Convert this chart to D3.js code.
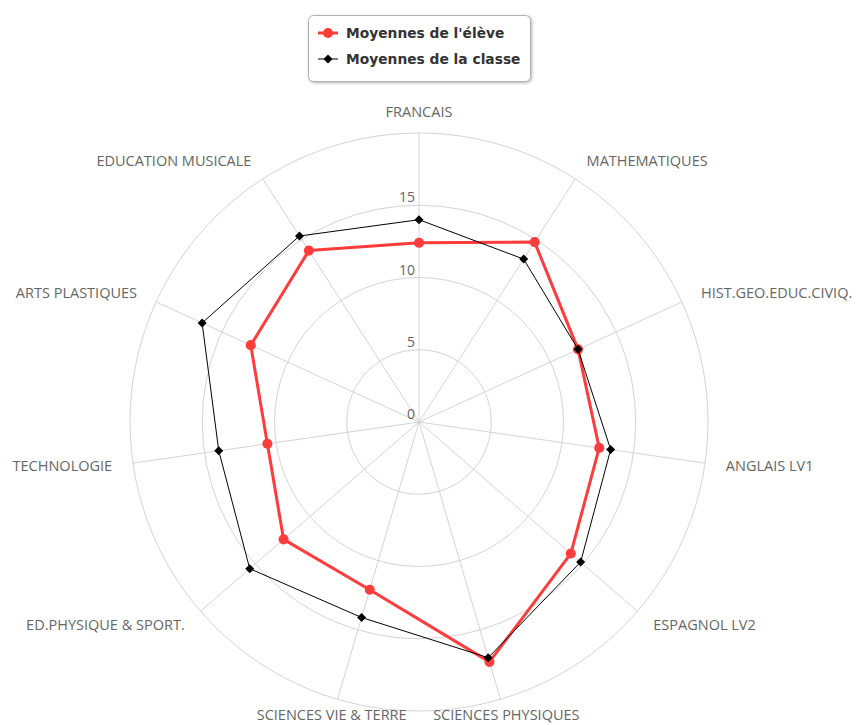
<!DOCTYPE html>
<html>
<head>
<meta charset="utf-8">
<script src="https://cdn.jsdelivr.net/npm/d3@7/dist/d3.min.js"></script>
<style>
  body { margin: 0; background: #fff; }
  svg { display: block; }
</style>
</head>
<body>
<div id="chart"></div>
<script>
// subjects, clockwise from the top
var subjects = ["FRANCAIS", "MATHEMATIQUES", "HIST.GEO.EDUC.CIVIQ.", "ANGLAIS LV1",
  "ESPAGNOL LV2", "SCIENCES PHYSIQUES", "SCIENCES VIE & TERRE",
  "ED.PHYSIQUE & SPORT.", "TECHNOLOGIE", "ARTS PLASTIQUES", "EDUCATION MUSICALE"];

var eleve = [12.4, 14.8, 12.1, 12.6, 13.9, 17.3, 12.1, 12.4, 10.6, 12.8, 14.1];
var classe = [14.0, 13.4, 12.1, 13.4, 14.8, 17.0, 14.1, 15.5, 14.0, 16.5, 15.3];

var ringValues = [5, 10, 15, 20];
var tickLabels = [0, 5, 10, 15];
var seriesNames = ["Moyennes de l'élève", "Moyennes de la classe"];

const width = 856;
const height = 725;
const cx = 419, cy = 422;

var svg = d3.select("#chart").append("svg")
  .attr("width", width)
  .attr("height", height);

var r = d3.scaleLinear().domain([0, 20]).range([0, 289]);
var angle = d3.scaleLinear().domain([0, subjects.length]).range([0, 2 * Math.PI]);

var pt = function (i, v) {
  var a = angle(i);
  return [cx + r(v) * Math.sin(a), cy - r(v) * Math.cos(a)];
};

var g = svg.append("g");

// rings
g.selectAll("circle.ring")
  .data(ringValues)
  .enter()
  .append("circle")
  .attr("cx", cx)
  .attr("cy", cy)
  .attr("r", function (d) { return r(d); })
  .attr("fill", "none")
  .attr("stroke", "#d4d4d4")
  .attr("stroke-width", 1);

// spokes
g.selectAll("line.spoke")
  .data(subjects)
  .enter()
  .append("line")
  .attr("x1", cx)
  .attr("y1", cy)
  .attr("x2", function (d, i) { return pt(i, 20)[0]; })
  .attr("y2", function (d, i) { return pt(i, 20)[1]; })
  .attr("stroke", "#d4d4d4")
  .attr("stroke-width", 1);

// subject labels (bottom ones nudged up a bit so they stay inside the frame)
g.selectAll("text.subject")
  .data(subjects)
  .enter()
  .append("text")
  .attr("x", function (d, i) { return cx + 310 * Math.sin(angle(i)); })
  .attr("y", function (d, i) {
    var y = cy - 310 * Math.cos(angle(i)) + 5;
    return Math.min(y, height - 5);
  })
  .attr("text-anchor", function (d, i) {
    var s = Math.sin(angle(i));
    if (s > 0.3) return "start";
    if (s < -0.3) return "end";
    return "middle";
  })
  .attr("font-family", "'Open Sans', sans-serif")
  .attr("font-size", "14.5px")
  .attr("fill", "#666")
  .text(function (d) { return d; });

// tick labels on the vertical axis
g.selectAll("text.tick")
  .data(tickLabels)
  .enter()
  .append("text")
  .attr("x", cx - 4)
  .attr("y", function (d) { return cy - r(d) - 3; })
  .attr("text-anchor", "end")
  .attr("font-family", "'Open Sans', sans-serif")
  .attr("font-size", "14px")
  .attr("fill", "#666")
  .text(function (d) { return d; });

var line = d3.line()
  .x(function (d) { return d[0]; })
  .y(function (d) { return d[1]; })
  .curve(d3.curveLinearClosed);

var drawSeries = function (values, color, lw, marker) {
  var pts = values.map(function (v, i) { return pt(i, v); });
  g.append("path")
    .datum(pts)
    .attr("d", line)
    .attr("fill", "none")
    .attr("stroke", color)
    .attr("stroke-width", lw)
    .attr("stroke-linejoin", "round");
  g.selectAll(null)
    .data(pts)
    .enter()
    .append("path")
    .attr("transform", function (d) { return "translate(" + d[0] + "," + d[1] + ")"; })
    .attr("d", marker)
    .attr("fill", color);
};

var circleMarker = d3.symbol().type(d3.symbolCircle).size(80)();
var diamondMarker = "M0,-4.5L4.5,0L0,4.5L-4.5,0Z";

drawSeries(eleve, "#ff3c3c", 3, circleMarker);
drawSeries(classe, "#000", 1, diamondMarker);

// legend
var legend = svg.append("g");
var defs = svg.append("defs");
var filt = defs.append("filter").attr("id", "shadow").attr("x", "-10%").attr("y", "-10%")
  .attr("width", "130%").attr("height", "140%");
filt.append("feDropShadow").attr("dx", 1).attr("dy", 1).attr("stdDeviation", 1.5)
  .attr("flood-color", "#000").attr("flood-opacity", 0.3);

legend.append("rect")
  .attr("x", 308.5)
  .attr("y", 15.5)
  .attr("width", 222)
  .attr("height", 66)
  .attr("rx", 5)
  .attr("fill", "#fff")
  .attr("stroke", "#b0b0b0")
  .attr("filter", "url(#shadow)");

var legendColors = ["#ff3c3c", "#000"];
var legendWidths = [3, 1];
var legendMarkers = [circleMarker, diamondMarker];

seriesNames.forEach(function (name, i) {
  var y = 33 + i * 26;
  legend.append("line")
    .attr("x1", 318).attr("x2", 338)
    .attr("y1", y).attr("y2", y)
    .attr("stroke", legendColors[i])
    .attr("stroke-width", legendWidths[i]);
  legend.append("path")
    .attr("transform", "translate(328," + y + ")")
    .attr("d", legendMarkers[i])
    .attr("fill", legendColors[i]);
  legend.append("text")
    .attr("x", 346)
    .attr("y", y + 5)
    .attr("font-family", "'DejaVu Sans', sans-serif")
    .attr("font-weight", "bold")
    .attr("font-size", "13.8px")
    .attr("fill", "#333")
    .text(name);
});
</script>
</body>
</html>
